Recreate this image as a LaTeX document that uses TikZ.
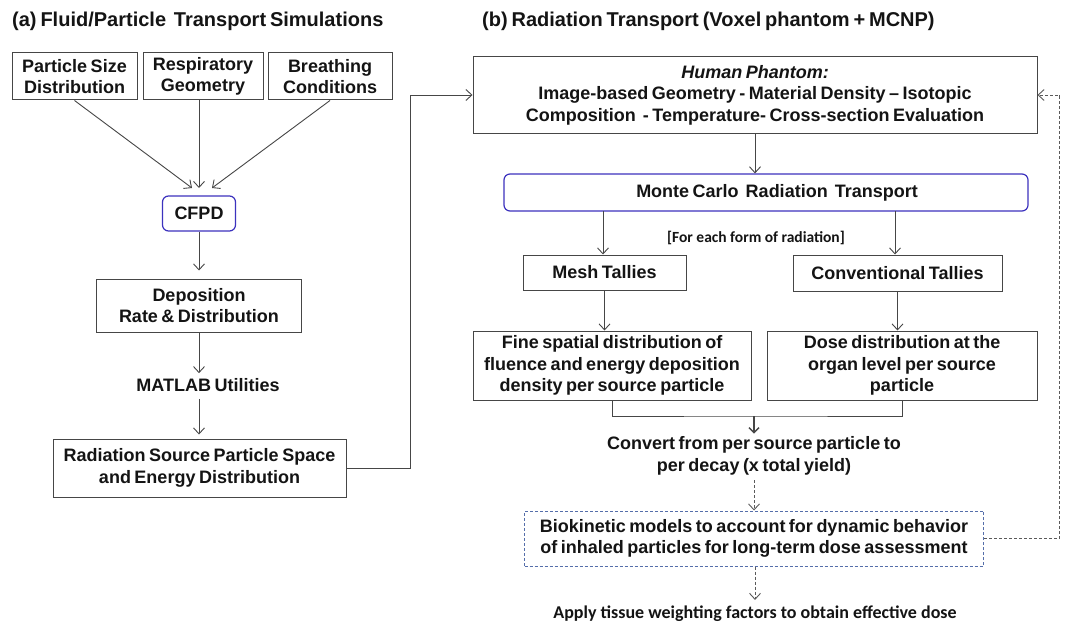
\documentclass[tikz,border=0pt]{standalone}
\usepackage{fontspec}
\setmainfont{Liberation Sans}[WordSpace=0.7]
\newfontfamily\calib{Carlito}
\usetikzlibrary{arrows.meta}
\definecolor{linec}{RGB}{70,70,70}
\definecolor{textc}{RGB}{20,20,20}
\definecolor{rbc}{RGB}{60,50,190}
\definecolor{bioc}{RGB}{85,110,170}
\definecolor{dashc}{RGB}{90,90,90}
\newcommand{\bfnt}{\fontsize{18}{21.5}\selectfont\bfseries}
\newcommand{\ttlfnt}{\fontsize{20}{24}\selectfont\bfseries}
\begin{document}
\begin{tikzpicture}[x=1pt,y=-1pt,
  box/.style={draw=linec, line width=1pt, fill=white, inner sep=0pt, align=center, text=textc, font=\bfnt},
  rbox/.style={box, draw=rbc, line width=1.2pt, rounded corners=6pt},
  dbox/.style={box, draw=bioc, dashed, dash pattern=on 3pt off 2pt},
  txt/.style={inner sep=0pt, align=center, text=textc, font=\bfnt},
  ttl/.style={inner sep=0pt, anchor=west, text=textc, font=\ttlfnt},
  arr/.style={draw=linec, line width=0.9pt, -{Straight Barb[length=6pt,width=11pt]}},
  link/.style={draw=linec, line width=0.9pt},
  darr/.style={draw=dashc, line width=0.9pt, dash pattern=on 3pt off 2pt, -{Straight Barb[length=6pt,width=11pt]}},
]
\useasboundingbox (0,0) rectangle (1067,623);
\fill[white] (0,0) rectangle (1067,623);

% titles
\node[ttl] (ta) at (12,21) {(a) Fluid/Particle\ \ Transport Simulations};
\node[ttl] (tb) at (482,21) {(b) Radiation Transport (Voxel phantom + MCNP)};

% left panel
\node[box, minimum width=125pt, minimum height=47pt] (psd) at (74.5,76.5) {Particle Size\\Distribution};
\node[box, minimum width=120pt, minimum height=47pt] (rg) at (203,76.5) {Respiratory\\Geometry};
\node[box, minimum width=124pt, minimum height=47pt] (bc) at (330,76.5) {Breathing\\Conditions};
\node[rbox, minimum width=73pt, minimum height=35pt] (cfpd) at (199,213.5) {CFPD};
\node[box, minimum width=205pt, minimum height=53pt] (dep) at (199,305.5) {Deposition\\Rate \& Distribution};
\node[txt] (matlab) at (208,385) {MATLAB Utilities};
\node[box, minimum width=293pt, minimum height=58pt] (rs) at (199.5,468) {Radiation Source Particle Space\\and Energy Distribution};

\coordinate (t1) at (192,188);
\coordinate (t2) at (199,188);
\coordinate (t3) at (212,188);
\coordinate (cx) at (199,0);
\draw[arr] (psd.south) -- (t1);
\draw[arr] (t2 |- rg.south) -- (t2);
\draw[arr] (bc.south) -- (t3);
\draw[arr] (cfpd.south) -- ([yshift=8pt]dep.north);
\draw[arr] (cx |- dep.south) -- ([yshift=5pt]cx |- matlab.north);
\draw[arr] ([yshift=-7pt]cx |- matlab.south) -- ([yshift=4pt]cx |- rs.north);

% right panel
\node[box, minimum width=564pt, minimum height=76pt] (hp) at (755,95) {\textit{Human Phantom:}\\Image-based Geometry - Material Density -- Isotopic\\Composition\ \ - Temperature- Cross-section Evaluation};
\node[rbox, minimum width=524pt, minimum height=37pt] (mc) at (766,192.5) {\hspace*{22pt}Monte Carlo\ \ Radiation\ \ Transport};
\node[inner sep=0pt, text=textc, font=\calib\fontsize{15.5}{18}\selectfont\bfseries] (fe) at (756,238) {[For each form of radiation]};
\node[box, minimum width=163pt, minimum height=35pt] (mesh) at (604.5,272.5) {Mesh Tallies};
\node[box, minimum width=209pt, minimum height=36pt] (conv) at (897.5,273) {Conventional Tallies};
\node[box, minimum width=278pt, minimum height=69pt] (fine) at (612,365.5) {Fine spatial distribution of\\fluence and energy deposition\\density per source particle};
\node[box, minimum width=270pt, minimum height=69pt] (dose) at (902,365.5) {Dose distribution at the\\organ level per source\\particle};
\node[txt] (convert) at (754,456) {Convert from per source particle to\\per decay (x total yield)};
\node[dbox, minimum width=459pt, minimum height=55pt] (bio) at (754,538.5) {Biokinetic models to account for dynamic behavior\\of inhaled particles for long-term dose assessment};
\node[inner sep=0pt, text=textc, font=\calib\fontsize{18}{21}\selectfont\bfseries] (apply) at (755,614) {Apply tissue weighting factors to obtain effective dose};

\draw[arr] (rs.east) -- ++(64,0) |- (hp.west);
\draw[arr] (hp.south) -- (hp.south |- mc.north);
\draw[arr] (603,211) -- (603,254.5);
\draw[arr] (895,211) -- (895,254.5);
\draw[arr] (mesh.south) -- (mesh.south |- fine.north);
\draw[arr] (conv.south) -- (conv.south |- dose.north);
\coordinate (mj) at (754,416);
\draw[link] (fine.south) |- (mj) -| (dose.south);
\draw[draw=linec, line width=1.5pt, -{Straight Barb[length=5pt,width=10pt]}] (mj) -- ([yshift=3pt]convert.north);
\draw[darr] ([yshift=-5pt]convert.south) -- (convert.south |- bio.north);
\draw[darr] (bio.south -| apply.north) -- ([yshift=6pt]apply.north);
\draw[darr] (bio.east) -- ++(75,0) |- (hp.east);
\end{tikzpicture}
\end{document}
